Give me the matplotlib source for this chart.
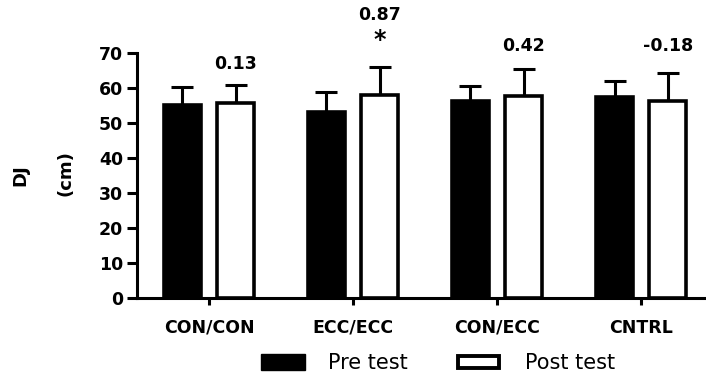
import numpy as np
import matplotlib
matplotlib.use('Agg')
import matplotlib.pyplot as plt
from matplotlib.patches import Rectangle

# data
groups = ['CON/CON', 'ECC/ECC', 'CON/ECC', 'CNTRL']
pre_mean = [55.1, 53.1, 56.2, 57.4]
pre_sd = [5.1, 5.9, 4.4, 4.6]
post_mean = [55.6, 58.1, 57.8, 56.4]
post_sd = [5.2, 8.0, 7.5, 7.8]
effect = ['0.13', '0.87', '0.42', '-0.18']
sig = ['', '*', '', '']
legend_labels = ['Pre test', 'Post test']

# where the effect-size labels sit (y in data units)
label_y = [66.9, 80.8, 72.0, 72.0]
star_y = 73.6

plt.rcParams['font.family'] = ['DejaVu Sans']

fig = plt.figure(figsize=(7.06, 3.76), dpi=100)
ax = fig.add_axes([137 / 706, 78 / 376, 569 / 706, 245 / 376])

x = np.arange(len(groups))
off = 0.185
w = 0.255
lw = 2.6

ax.bar(x - off, pre_mean, w, color='black', edgecolor='black', linewidth=lw, zorder=3)
ax.bar(x + off, post_mean, w, color='white', edgecolor='black', linewidth=lw, zorder=3)
ax.errorbar(x - off, pre_mean, yerr=[np.zeros(4), pre_sd], fmt='none', ecolor='black',
            elinewidth=2.2, capsize=8, capthick=2.2, zorder=2)
ax.errorbar(x + off, post_mean, yerr=[np.zeros(4), post_sd], fmt='none', ecolor='black',
            elinewidth=2.2, capsize=8, capthick=2.2, zorder=2)

# effect sizes above the post bars
for i in range(len(groups)):
    if sig[i]:
        ax.text(x[i] + off, star_y, sig[i], ha='center', va='center',
                fontsize=17, fontweight='bold', clip_on=False)
    ax.text(x[i] + off, label_y[i], effect[i], ha='center', va='center',
            fontsize=12.5, fontweight='bold', clip_on=False)

ax.set_ylim(0, 70)
ax.set_xlim(-0.5, 3.45)
ax.set_yticks(range(0, 71, 10))
ax.set_xticks(x)
ax.set_xticklabels(groups, fontsize=12.5, fontweight='bold')
for t in ax.get_yticklabels():
    t.set_fontsize(12.5)
    t.set_fontweight('bold')

for s in ['top', 'right']:
    ax.spines[s].set_visible(False)
for s in ['left', 'bottom']:
    ax.spines[s].set_linewidth(2.2)
ax.tick_params(axis='y', length=7, width=2.2, pad=3)
ax.tick_params(axis='x', length=5, width=2.2, pad=10)

fig.text(20 / 706, 1 - 175 / 376, 'DJ', rotation=90, ha='center', va='center',
         fontsize=13, fontweight='bold')
fig.text(65 / 706, 1 - 173 / 376, '(cm)', rotation=90, ha='center', va='center',
         fontsize=13, fontweight='bold')

# legend drawn by hand so the boxes sit where they do in the reference
W, H = 706, 376
fig.patches.append(Rectangle((261 / W, 1 - 370 / H), 44 / W, 16 / H, transform=fig.transFigure,
                             facecolor='black', edgecolor='black', linewidth=1.0))
fig.text(328 / W, 1 - 363 / H, legend_labels[0], ha='left', va='center', fontsize=15)
fig.patches.append(Rectangle((458 / W, 1 - 368 / H), 41 / W, 12 / H, transform=fig.transFigure,
                             facecolor='white', edgecolor='black', linewidth=2.8))
fig.text(525 / W, 1 - 363 / H, legend_labels[1], ha='left', va='center', fontsize=15)

fig.savefig('out.png', dpi=100)
